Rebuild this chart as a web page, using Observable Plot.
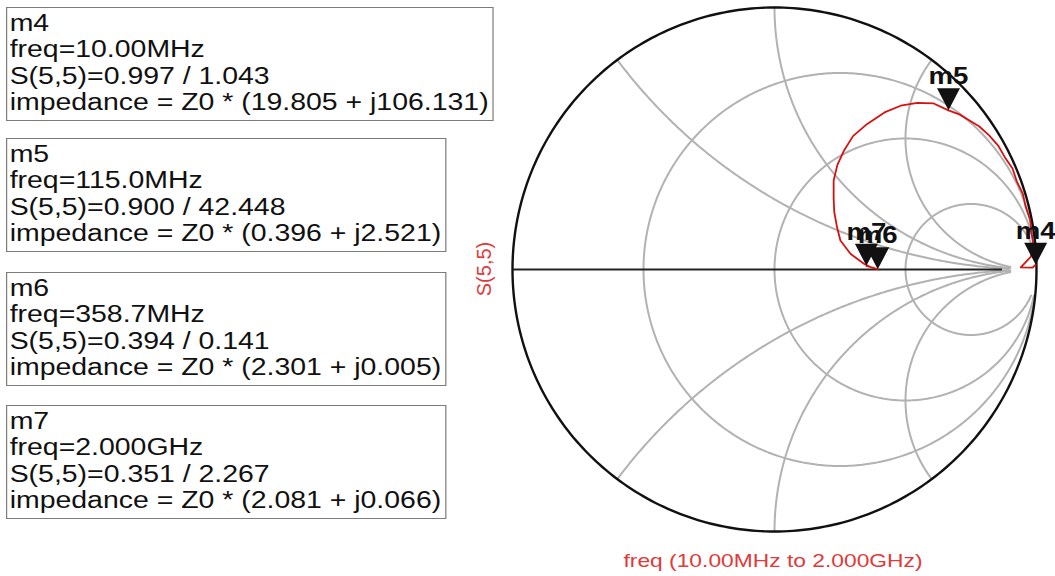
<!DOCTYPE html>
<html>
<head>
<meta charset="utf-8">
<script src="https://cdn.jsdelivr.net/npm/d3@7"></script>
<script src="https://cdn.jsdelivr.net/npm/@observablehq/plot@0.6"></script>
<style>
  html, body { margin: 0; padding: 0; background: #fff; }
  #wrap { position: relative; width: 1055px; height: 576px; overflow: hidden;
          font-family: "Liberation Sans", Arial, sans-serif; }
  #chart { position: absolute; left: 0; top: 0; }
  .box { position: absolute; left: 6px; border: 1.5px solid #7c7c7c; background: #fff;
         transform-origin: 0 0; transform: scaleX(1.21); padding: 2px 3px 5px 2px;
         font-size: 23.5px; line-height: 26.3px; color: #111; white-space: pre; }
  .ylab { position: absolute; left: 484px; top: 269px; color: #e03a3a; font-size: 20px;
          white-space: pre; transform: translate(-50%, -50%) rotate(-90deg); }
  .xlab { position: absolute; left: 773px; top: 550px; color: #e03a3a; font-size: 19px;
          line-height: 21px; white-space: pre; transform-origin: 50% 50%;
          transform: translateX(-50%) scaleX(1.2); }
</style>
</head>
<body>
<div id="wrap"><div id="chart"></div></div>
<script>
// ---------- data ----------
const markerNames = ["m4", "m5", "m6", "m7"];
const markerFreq  = ["10.00MHz", "115.0MHz", "358.7MHz", "2.000GHz"];
const markerMag   = [0.997, 0.900, 0.394, 0.351];
const markerAng   = [1.043, 42.448, 0.141, 2.267];
const markerZre   = [19.805, 0.396, 2.301, 2.081];
const markerZim   = [106.131, 2.521, 0.005, 0.066];

// S(5,5) trace, 10 MHz -> 2 GHz, magnitude and angle (deg)
const traceMag = [0.997, 0.985, 0.940, 0.979, 0.993, 0.991, 0.994, 0.988, 0.991, 0.984, 0.987,
                  0.978, 0.976, 0.966, 0.953, 0.936, 0.921, 0.900, 0.878, 0.838, 0.789, 0.732,
                  0.659, 0.592, 0.526, 0.466, 0.408, 0.352, 0.317, 0.288, 0.275, 0.296, 0.342,
                  0.370, 0.394, 0.378, 0.351];
const traceAng = [1.043, 0.41, 0.49, 2.8, 5.0, 8.0, 11.0, 14.0, 17.0, 20.0, 23.0,
                  26.0, 29.0, 32.0, 35.0, 37.5, 40.0, 42.448, 46.2, 49.4, 52.4, 55.0,
                  57.5, 59.5, 59.7, 59.0, 56.4, 50.1, 44.0, 34.0, 23.8, 11.7, 3.7,
                  1.2, 0.141, 0.9, 2.267];

// Smith chart grid values
const rCircles = [1 / 3, 1, 3];
const xArcs = [0.5, 1, 2];

const yLabel = "S(5,5)";
const xLabel = "freq (10.00MHz to 2.000GHz)";

// ---------- layout ----------
const W = 1055, H = 576, CX = 774, CY = 269, R = 262;
const rad = Math.PI / 180;
const toXY = (m, a) => ({x: m * Math.cos(a * rad), y: m * Math.sin(a * rad)});

const trace = traceMag.map((m, i) => toXY(m, traceAng[i]));
const markers = markerNames.map((n, i) => ({name: n, ...toXY(markerMag[i], markerAng[i])}));

// grid curves
const clipR = 0.1;
const keep = p => Math.hypot(p.x - 1, p.y) > clipR && Math.hypot(p.x, p.y) <= 1.0005;
const grid = [];
rCircles.forEach((r, k) => {
  const c = r / (1 + r), rr = 1 / (1 + r);
  for (let i = 0; i <= 720; i++) {
    const t = i / 720 * 2 * Math.PI;
    const p = {x: c + rr * Math.cos(t), y: rr * Math.sin(t), id: "r" + k};
    if (keep(p)) grid.push(p);
  }
});
xArcs.forEach((xv, k) => {
  [1, -1].forEach(s => {
    const cy = 1 / xv, rr = 1 / xv;
    for (let i = 0; i <= 1440; i++) {
      const t = -Math.PI / 2 - i / 1440 * 2 * Math.PI;
      const p = {x: 1 + rr * Math.cos(t), y: s * (cy + rr * Math.sin(t)), id: "x" + k + s};
      if (keep(p)) grid.push(p);
      else if (grid.length && grid[grid.length - 1].id === p.id && Math.hypot(p.x, p.y) > 1.0005) break;
    }
  });
});
const outer = d3.range(0, 361, 1).map(a => toXY(1, a));

const triDown = {
  draw(ctx) {
    ctx.moveTo(0, 0);
    ctx.lineTo(-11.5, -22);
    ctx.lineTo(11.5, -22);
    ctx.closePath();
  }
};

const plot = Plot.plot({
  width: W, height: H, margin: 0,
  x: {domain: [-CX / R, (W - CX) / R], range: [0, W], axis: null},
  y: {domain: [(CY - H) / R, CY / R], range: [H, 0], axis: null},
  marks: [
    Plot.line(grid, {x: "x", y: "y", z: "id", stroke: "#b2b2b2", strokeWidth: 2}),
    Plot.ruleY([0], {x1: -1, x2: 0.87, stroke: "#222", strokeWidth: 2}),
    Plot.line(outer, {x: "x", y: "y", stroke: "#111", strokeWidth: 2.4}),
    Plot.line(trace, {x: "x", y: "y", stroke: "#d81010", strokeWidth: 1.8}),
    Plot.dot(markers, {x: "x", y: "y", symbol: triDown, fill: "#111", stroke: "none", r: 5}),
    Plot.text(markers, {x: "x", y: "y", text: "name", dy: -26, lineAnchor: "bottom",
      fontSize: 24, fontWeight: "bold", fill: "#111", fontFamily: "Liberation Sans, Arial, sans-serif"})
  ]
});
plot.style.background = "#fff";
document.getElementById("chart").appendChild(plot);

// widen marker labels horizontally like the original font
plot.querySelectorAll('g[aria-label="text"] text').forEach(t => {
  const tr = t.getAttribute("transform");
  if (tr) t.setAttribute("transform", tr + " scale(1.15,1)");
  else {
    const x = t.getAttribute("x") || 0, y = t.getAttribute("y") || 0;
    t.removeAttribute("x"); t.removeAttribute("y");
    t.setAttribute("transform", `translate(${x},${y}) scale(1.15,1)`);
  }
});

// marker readout boxes
const wrap = document.getElementById("wrap");
const boxTops = [7, 138, 272, 405];
markerNames.forEach((n, i) => {
  const d = document.createElement("div");
  d.className = "box";
  d.style.top = boxTops[i] + "px";
  d.textContent = [
    n,
    "freq=" + markerFreq[i],
    "S(5,5)=" + markerMag[i].toFixed(3) + " / " + markerAng[i].toFixed(3),
    "impedance = Z0 * (" + markerZre[i].toFixed(3) + " + j" + markerZim[i].toFixed(3) + ")"
  ].join("\n");
  wrap.appendChild(d);
});
const yl = document.createElement("div");
yl.className = "ylab"; yl.textContent = yLabel; wrap.appendChild(yl);
const xl = document.createElement("div");
xl.className = "xlab"; xl.textContent = xLabel; wrap.appendChild(xl);
</script>
</body>
</html>
